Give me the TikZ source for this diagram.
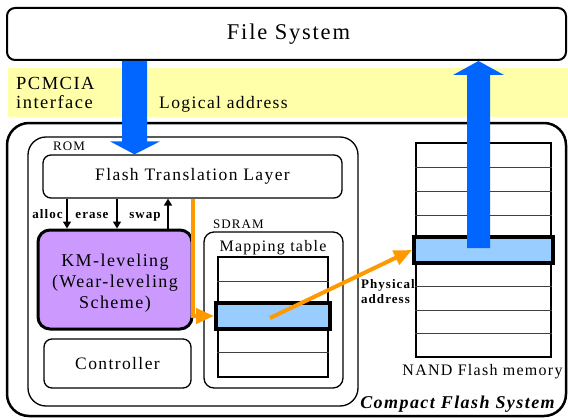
\documentclass[tikz,border=0pt]{standalone}
\usepackage{fontspec}
\setmainfont{Liberation Serif}
\newfontfamily\spacedserif{Liberation Serif}[LetterSpace=8]
\usetikzlibrary{arrows.meta,calc}

\definecolor{bandyellow}{RGB}{255,255,170}
\definecolor{blockblue}{RGB}{0,102,255}
\definecolor{cellblue}{RGB}{153,204,255}
\definecolor{kmpurple}{RGB}{204,153,255}
\definecolor{ptrorange}{RGB}{255,153,0}

\newcommand\sz[1]{\spacedserif\fontsize{#1pt}{#1pt}\selectfont}

\tikzset{
  rbox/.style={draw, line width=1.3pt, rounded corners=#1, inner sep=0pt, fill=white},
  txt/.style={inner sep=0pt, anchor=base},
  grid/.style={draw, line width=2pt, inner sep=0pt, fill=white},
  rowline/.style={black!75, line width=0.9pt},
  hlrow/.style={draw, line width=4pt, fill=cellblue, inner sep=0pt},
  ptr/.style={ptrorange, line width=4pt, -{Triangle[length=18pt,width=15pt]}},
  op/.style={line width=1.5pt, -{Triangle[length=7pt,width=8pt]}},
  oplabel/.style={txt, font=\sz{13}\bfseries},
}

\begin{document}
\begin{tikzpicture}[x=1pt,y=-1pt]
\useasboundingbox (0,0) rectangle (568,420);

% host side
\node[rbox=8pt, line width=2pt, minimum width=559pt, minimum height=52pt] (fs) at (286.5,34) {};
\node[txt, font=\sz{22.5}] (fstext) at (288.5,40) {File System};

\node[fill=bandyellow, minimum width=560pt, minimum height=49pt, inner sep=0pt] (band) at (288,92.5) {};
\node[txt, anchor=base west, font=\sz{18.5}] (pcmcia) at (16,89) {PCMCIA};
\node[txt, anchor=base west, font=\sz{18.5}] (iface) at (16,108) {interface};
\node[txt, anchor=base west, font=\sz{17.5}] (logaddr) at (159,108) {Logical address};

% compact flash card
\node[rbox=22pt, line width=2.5pt, minimum width=559pt, minimum height=293pt] (cfs) at (286.5,269.5) {};
\node[txt, font=\sz{18}\bfseries\itshape] (cfslabel) at (457.5,408) {Compact Flash System};

\node[rbox=18pt, minimum width=330pt, minimum height=269pt] (rom) at (193,271.5) {};
\node[txt, anchor=base west, font=\sz{13}] (romlabel) at (53,150) {ROM};

\node[rbox=8pt, minimum width=299pt, minimum height=43pt, font=\sz{17.5}] (ftl) at (192.5,176.5) {Flash Translation Layer};

\node[rbox=12pt, line width=3pt, fill=kmpurple, minimum width=154pt, minimum height=99pt] (km) at (115,279.5) {};
\node[align=center, inner sep=0pt, font=\sz{18}] (kmtext) at ($(km.center)+(0,4)$)
      {KM-leveling\\[3pt](Wear-leveling\\[3pt]Scheme)};

\node[rbox=8pt, minimum width=147pt, minimum height=49pt, font=\sz{17.5}] (ctrl) at (117.5,363.5) {Controller};

% SDRAM mapping table
\node[txt, anchor=base west, font=\sz{13}] (sdramlabel) at (213,228) {SDRAM};
\node[rbox=10pt, minimum width=139pt, minimum height=156pt] (sdram) at (273.5,310) {};
\node[txt, font=\sz{16}] (maptitle) at (273,251) {Mapping table};

\node[grid, minimum width=110pt, minimum height=120pt] (map) at (273,317) {};
\draw[rowline] (map.west |- 0,281) -- (map.east |- 0,281);
\draw[rowline] (map.west |- 0,352) -- (map.east |- 0,352);
\node[hlrow, minimum width=114pt, minimum height=26pt] (maphl) at (273,316) {};

% NAND flash
\node[grid, minimum width=135pt, minimum height=214pt] (nand) at (483.5,250) {};
\foreach \yy in {167,191,215,286,310,333}
  \draw[rowline] (nand.west |- 0,\yy) -- (nand.east |- 0,\yy);
\node[hlrow, minimum width=139pt, minimum height=26pt] (nandhl) at (483.5,250) {};
\node[txt, font=\sz{16}] (nandlabel) at (482.5,375) {NAND Flash memory};

% FTL <-> wear leveling operations
\draw[op] (ftl.south -| 67,0) -- (km.north -| 67,0);
\draw[op] (ftl.south -| 117,0) -- (km.north -| 117,0);
\draw[op] (km.north -| 168,0) -- (ftl.south -| 168,0);
\node[oplabel] (alloc) at (47.5,218) {alloc};
\node[oplabel] (erase) at (92,218) {erase};
\node[oplabel] (swap) at (145,218) {swap};

% address translation
\draw[ptr, rounded corners=0pt] (ftl.south -| 193,0) |- (maphl.west);
\coordinate (entry) at (270,318);
\draw[ptr] (entry) -- (nandhl.west);
\node[oplabel, anchor=base west] (phys1) at (361,288) {Physical};
\node[oplabel, anchor=base west] (phys2) at (361,303) {address};

% host request and data path
\coordinate (dnfrom) at (fs.south -| 134.5,0);
\coordinate (dntip) at (ftl.north -| 134.5,0);
\fill[blockblue] ($(dnfrom)+(-12.5,0)$) -- ($(dntip)+(-12.5,-13)$) -- ($(dntip)+(-24.5,-13)$)
  -- (dntip) -- ($(dntip)+(25.5,-13)$) -- ($(dntip)+(12.5,-13)$) -- ($(dnfrom)+(12.5,0)$) -- cycle;

\coordinate (upfrom) at (478.5,248);
\coordinate (uptip) at (fs.south -| 478.5,0);
\fill[blockblue] ($(upfrom)+(-11.5,0)$) -- ($(uptip)+(-11.5,14)$) -- ($(uptip)+(-25.5,14)$)
  -- (uptip) -- ($(uptip)+(25.5,14)$) -- ($(uptip)+(11.5,14)$) -- ($(upfrom)+(11.5,0)$) -- cycle;
\end{tikzpicture}
\end{document}
